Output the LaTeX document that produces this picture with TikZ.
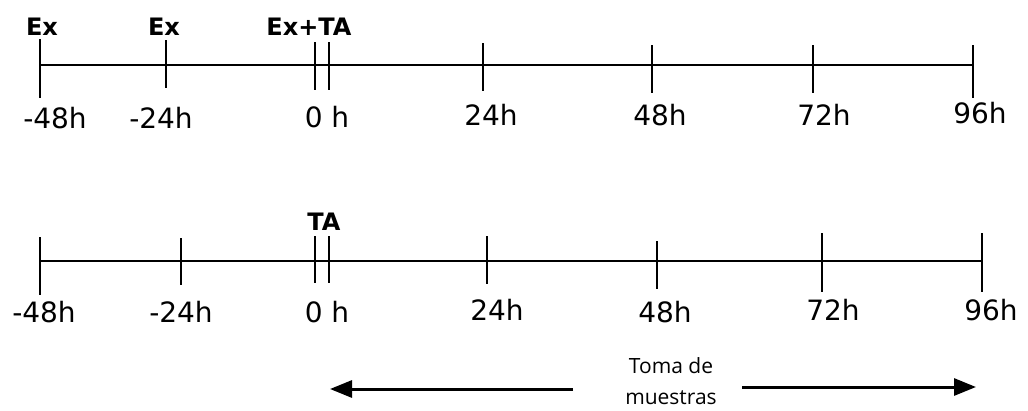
\documentclass[tikz,border=0pt]{standalone}
\usepackage{fontspec}
\usetikzlibrary{arrows.meta}
\newfontfamily\labfont{DejaVu Sans}
\newfontfamily\labbold{DejaVu Sans Bold}
\newfontfamily\notefont{Open Sans}
\tikzset{
  axis/.style={line width=2.6pt, line cap=butt},
  tick/.style={line width=2.8pt},
  tlab/.style={font=\labfont\fontsize{28}{33}\selectfont, anchor=base, inner sep=0pt},
  blab/.style={font=\labbold\fontsize{24}{28}\selectfont, anchor=base, inner sep=0pt},
  note/.style={font=\notefont\fontsize{21}{31}\selectfont, align=center, anchor=base, inner sep=0pt},
  arr/.style={line width=3pt, -{Triangle[length=22pt,width=17pt]}},
}
\begin{document}
\begin{tikzpicture}[x=1pt,y=-1pt]
\useasboundingbox (0,0) rectangle (1028,410);
% ---------- top timeline ----------
\coordinate (ta) at (40,65);
\coordinate (tb) at (973,65);
\draw[axis] (ta) -- (tb);
\draw[tick] (40,39) -- (40,98);
\draw[tick] (166,40) -- (166,88);
\draw[tick] (315,42) -- (315,90);
\draw[tick] (329,42) -- (329,90);
\draw[tick] (483,43) -- (483,91);
\draw[tick] (652,45) -- (652,93);
\draw[tick] (813,45) -- (813,93);
\draw[tick] (973,45) -- (973,98);
\node[tlab] (t1) at (55,128) {-48h};
\node[tlab] (t2) at (161,128) {-24h};
\node[tlab] (t3) at (327,127) {0 h};
\node[tlab] (t4) at (491,125) {24h};
\node[tlab] (t5) at (660,125) {48h};
\node[tlab] (t6) at (824,125) {72h};
\node[tlab] (t7) at (980,123) {96h};
\node[blab] (e1) at (42,35) {Ex};
\node[blab] (e2) at (164,35) {Ex};
\node[blab] (e3) at (309,35) {Ex+TA};
% ---------- bottom timeline ----------
\coordinate (ba) at (40,261);
\coordinate (bb) at (982,261);
\draw[axis] (ba) -- (bb);
\draw[tick] (40,237) -- (40,295);
\draw[tick] (181,238) -- (181,285);
\draw[tick] (315,236) -- (315,283);
\draw[tick] (329,236) -- (329,283);
\draw[tick] (487,236) -- (487,284);
\draw[tick] (657,241) -- (657,289);
\draw[tick] (822,233) -- (822,292);
\draw[tick] (982,233) -- (982,292);
\node[tlab] (b1) at (44,322) {-48h};
\node[tlab] (b2) at (181,322) {-24h};
\node[tlab] (b3) at (327,322) {0 h};
\node[tlab] (b4) at (497,320) {24h};
\node[tlab] (b5) at (665,322) {48h};
\node[tlab] (b6) at (833,320) {72h};
\node[tlab] (b7) at (991,320) {96h};
\node[blab] (ta2) at (324,230) {TA};
% ---------- sampling arrows ----------
\node[note] (toma) at (671,404) {Toma de\\muestras};
\coordinate (la) at (573,389);
\coordinate (lb) at (330,389);
\coordinate (ra) at (742,387);
\coordinate (rb) at (976,387);
\draw[arr] (la) -- (lb);
\draw[arr] (ra) -- (rb);
\end{tikzpicture}
\end{document}
